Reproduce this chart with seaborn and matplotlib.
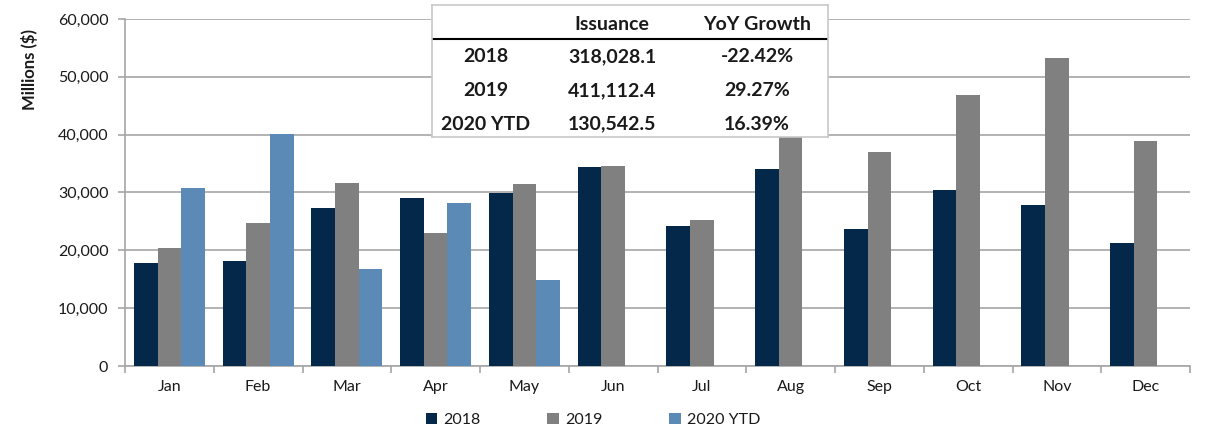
import pandas as pd
import numpy as np
import seaborn as sns
import matplotlib.pyplot as plt

# Monthly issuance, millions of dollars
months = ['Jan', 'Feb', 'Mar', 'Apr', 'May', 'Jun', 'Jul', 'Aug', 'Sep', 'Oct', 'Nov', 'Dec']
issuance_2018 = [17800, 18080, 27280, 29100, 29860, 34480, 24270, 34030, 23650, 30450, 27850, 21330]
issuance_2019 = [20390, 24690, 31690, 22970, 31400, 34650, 25260, 43980, 36970, 46890, 53290, 38930]
issuance_2020 = [30720, 40190, 16820, 28240, 14880]
series_names = ['2018', '2019', '2020 YTD']
colors = ['#03284a', '#808080', '#5a8ab5']
y_ticks = [0, 10000, 20000, 30000, 40000, 50000, 60000]

# Summary table
table_header = ['', 'Issuance', 'YoY Growth']
table_rows = ['2018', '2019', '2020 YTD']
table_issuance = ['318,028.1', '411,112.4', '130,542.5']
table_growth = ['-22.42%', '29.27%', '16.39%']

# Long-format frame for seaborn
records = []
for name, vals in zip(series_names, [issuance_2018, issuance_2019, issuance_2020]):
    for m, v in zip(months, vals):
        records.append({'month': m, 'series': name, 'value': v})
df = pd.DataFrame(records)

sns.set_style('white')
plt.rcParams['font.family'] = ['Lato', 'DejaVu Sans']

W, H = 1211, 432
fig = plt.figure(figsize=(W / 100, H / 100), dpi=100)
ax = fig.add_axes([125 / W, 1 - 366 / H, (1190 - 125) / W, (366 - 19) / H])

sns.barplot(data=df, x='month', y='value', hue='series', order=months,
            hue_order=series_names, palette=colors, saturation=1, width=0.8,
            linewidth=0, ax=ax, zorder=3)

grid_color = '#a6a6a6'
ax.set_xlim(-0.5, len(months) - 0.5)
ax.set_ylim(0, 60000)
ax.set_yticks(y_ticks)
ax.set_yticklabels([f'{t:,}' for t in y_ticks])
ax.yaxis.grid(True, color=grid_color, linewidth=1.2, zorder=0)
ax.set_axisbelow(True)
ax.set_xlabel('')
ax.set_ylabel('')
for s in ['top', 'right']:
    ax.spines[s].set_visible(False)
for s in ['left', 'bottom']:
    ax.spines[s].set_color(grid_color)
    ax.spines[s].set_linewidth(1.2)

ax.set_xticks(np.arange(len(months) + 1) - 0.5, minor=True)
ax.tick_params(axis='x', which='major', length=0, pad=10, labelsize=11.5, labelcolor='#1a1a1a')
ax.tick_params(axis='x', which='minor', length=5, width=1.2, color=grid_color, direction='out', bottom=True)
ax.tick_params(axis='y', length=5, width=1.2, color=grid_color, direction='out', left=True,
               pad=7, labelsize=11.5, labelcolor='#1a1a1a')

fig.text(30 / W, 1 - 69 / H, 'Millions ($)', rotation=90, ha='center', va='center',
         fontsize=12, fontweight='bold', color='#1a1a1a')

# Legend at bottom
handles, labels = ax.get_legend_handles_labels()
ax.get_legend().remove()
fig.legend(handles, labels, loc='center', bbox_to_anchor=(593 / W, 1 - 420 / H), ncol=3,
           frameon=False, fontsize=11.5, handlelength=0.7, handleheight=0.7,
           handletextpad=0.4, columnspacing=4.2, labelcolor='#1a1a1a')

# Summary table drawn over the bars
tx0, tx1, ty0, ty1 = 432, 828, 5, 137
tax = fig.add_axes([tx0 / W, 1 - ty1 / H, (tx1 - tx0) / W, (ty1 - ty0) / H])
tax.set_xlim(tx0, tx1)
tax.set_ylim(ty1, ty0)
tax.set_xticks([])
tax.set_yticks([])
tax.set_facecolor('white')
for s in tax.spines.values():
    s.set_color('#c8c8c8')
    s.set_linewidth(1.2)

col_x = [486, 612, 757]
row_y = [57, 91, 124]
txt = dict(ha='center', va='center', fontsize=14, fontweight='bold', color='#1a1a1a')
for cx, h in zip(col_x, table_header):
    tax.text(cx, 24, h, **txt)
tax.plot([tx0, tx1], [39, 39], color='black', linewidth=1.5)
for ry, r, iss, g in zip(row_y, table_rows, table_issuance, table_growth):
    tax.text(col_x[0], ry, r, **txt)
    tax.text(col_x[1], ry, iss, **txt)
    tax.text(col_x[2], ry, g, **txt)

fig.savefig('out.png', dpi=100)
